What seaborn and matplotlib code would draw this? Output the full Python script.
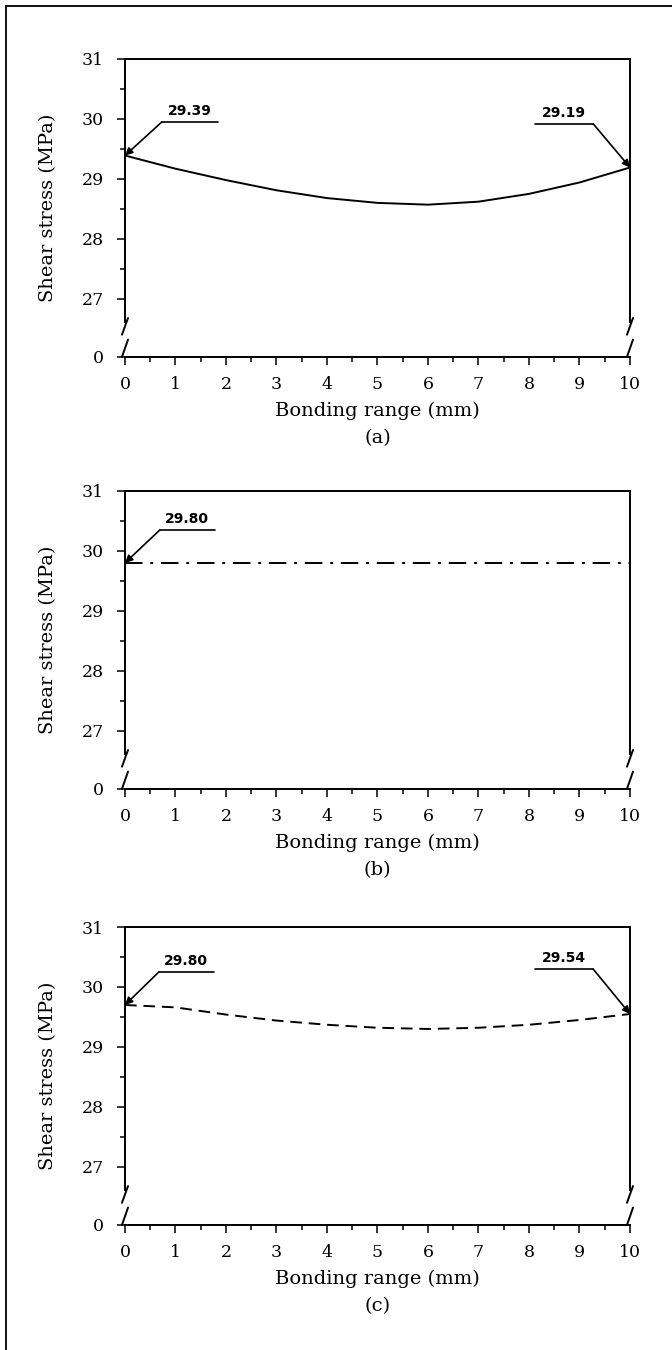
import matplotlib
matplotlib.use("Agg")
import matplotlib.pyplot as plt
import numpy as np
import pandas as pd
import seaborn as sns
from matplotlib.lines import Line2D
from matplotlib.ticker import FixedLocator

# ---------------- data ----------------
x_mm = [0, 1, 2, 3, 4, 5, 6, 7, 8, 9, 10]
stress_a = [29.39, 29.17, 28.98, 28.81, 28.68, 28.60, 28.57, 28.62, 28.75, 28.94, 29.19]
stress_b = [29.80, 29.80, 29.80, 29.80, 29.80, 29.80, 29.80, 29.80, 29.80, 29.80, 29.80]
stress_c = [29.70, 29.66, 29.54, 29.44, 29.37, 29.32, 29.30, 29.32, 29.37, 29.45, 29.55]
panel_labels = ["(a)", "(b)", "(c)"]
xtick_values = [0, 1, 2, 3, 4, 5, 6, 7, 8, 9, 10]
ytick_values = [27, 28, 29, 30, 31]
ytick_labels = ["0", "27", "28", "29", "30", "31"]
# annotations: (text, x, y of point)
annot_a = [("29.39", 0, 29.39), ("29.19", 10, 29.19)]
annot_b = [("29.80", 0, 29.80)]
annot_c = [("29.80", 0, 29.70), ("29.54", 10, 29.55)]

X_LABEL = "Bonding range (mm)"
Y_LABEL = "Shear stress (MPa)"

# ---------------- style ----------------
sns.set_theme(style="ticks")
plt.rcParams["font.family"] = ["DejaVu Serif"]
plt.rcParams["axes.linewidth"] = 1.4
plt.rcParams["text.color"] = "black"
plt.rcParams["axes.labelcolor"] = "black"
plt.rcParams["xtick.color"] = "black"
plt.rcParams["ytick.color"] = "black"

Y_ZERO = 26.03      # where the broken-axis "0" sits
BREAK_TOP = 26.62

fig = plt.figure(figsize=(6.72, 13.5), dpi=100)

left, width, height = 0.186, 0.7515, 0.2207
bottoms = [0.7356, 0.4156, 0.0926]
series = [stress_a, stress_b, stress_c]
styles = ["-", (0, (9, 4, 1.5, 4)), (0, (6, 3.5))]
annots = [annot_a, annot_b, annot_c]
# underline geometry (left x, right x, y) per annotation
ul_left = [(0.73, 1.84, 29.95), (0.69, 1.78, 30.35), (0.67, 1.76, 30.25)]
ul_right = [(8.12, 9.27, 29.92), None, (8.12, 9.27, 30.30)]

for i in range(3):
    ax = fig.add_axes([left, bottoms[i], width, height])
    df = pd.DataFrame({"x": x_mm, "y": series[i]})
    sns.lineplot(data=df, x="x", y="y", ax=ax, color="black", lw=1.4,
                 linestyle=styles[i])
    ax.set_xlim(0, 10)
    ax.set_ylim(Y_ZERO, 31)

    ax.xaxis.set_major_locator(FixedLocator(xtick_values))
    ax.xaxis.set_minor_locator(FixedLocator([v + 0.5 for v in xtick_values[:-1]]))
    ax.set_xticklabels([str(v) for v in xtick_values])
    ax.yaxis.set_major_locator(FixedLocator([Y_ZERO] + ytick_values))
    ax.yaxis.set_minor_locator(FixedLocator([v + 0.5 for v in ytick_values[:-1]]))
    ax.set_yticklabels(ytick_labels)

    ax.tick_params(axis="both", which="major", direction="out", length=6,
                   width=1.1, labelsize=12.5, colors="black")
    ax.tick_params(axis="both", which="minor", direction="out", length=3.5,
                   width=1.1)
    ax.tick_params(axis="x", which="major", pad=8)
    ax.tick_params(axis="y", which="major", pad=9)

    for s in ["top", "right", "left", "bottom"]:
        ax.spines[s].set_visible(True)
        ax.spines[s].set_color("black")
    ax.spines["left"].set_bounds(BREAK_TOP, 31)
    ax.spines["right"].set_bounds(BREAK_TOP, 31)

    # axis break marks
    for xb in (0, 10):
        ax.plot([xb - 0.06, xb + 0.06], [26.40, 26.68], color="black",
                lw=1.4, clip_on=False)
        ax.plot([xb - 0.06, xb + 0.06], [Y_ZERO, 26.32], color="black",
                lw=1.4, clip_on=False)

    ax.set_xlabel(X_LABEL, fontsize=14, labelpad=6, color="black")
    ax.set_ylabel(Y_LABEL, fontsize=14, color="black")
    ax.yaxis.set_label_coords(-0.135, 0.5)
    ax.text(0.5, -0.272, panel_labels[i], transform=ax.transAxes,
            ha="center", va="center", fontsize=14, color="black")

    # annotations
    for txt, px, py in annots[i]:
        if px == 0:
            x0, x1, yl = ul_left[i]
            start = x0
        else:
            x0, x1, yl = ul_right[i]
            start = x1
        ax.plot([x0, x1], [yl, yl], color="black", lw=1.2, clip_on=False)
        ax.annotate("", xy=(px, py), xytext=(start, yl),
                    arrowprops=dict(arrowstyle="-|>", color="black", lw=1.2,
                                    mutation_scale=11, shrinkA=0, shrinkB=0),
                    annotation_clip=False)
        ax.text((x0 + x1) / 2, yl + 0.06, txt, ha="center", va="bottom",
                fontsize=10, fontweight="bold", color="black",
                family=["DejaVu Sans"])

# figure frame (left and top)
fig.add_artist(Line2D([6 / 672, 6 / 672], [0, 1 - 6 / 1350],
                      transform=fig.transFigure, color="black", lw=1.3))
fig.add_artist(Line2D([6 / 672, 1], [1 - 6 / 1350, 1 - 6 / 1350],
                      transform=fig.transFigure, color="black", lw=1.3))

fig.savefig("out.png", dpi=100, facecolor="white")
